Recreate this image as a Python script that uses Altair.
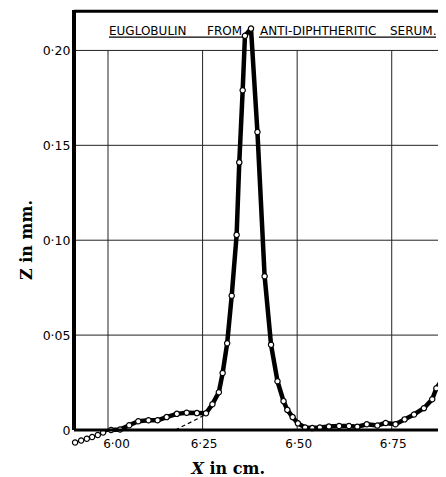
import altair as alt
import pandas as pd

# ---- data ----
x_cm = [5.913, 5.929, 5.944, 5.958, 5.973, 5.987, 6.008, 6.032, 6.056, 6.080,
        6.107, 6.131, 6.155, 6.182, 6.208, 6.235, 6.259, 6.276, 6.293, 6.303,
        6.315, 6.327, 6.340, 6.347, 6.356, 6.362, 6.378, 6.395, 6.414, 6.431,
        6.448, 6.464, 6.474, 6.488, 6.502, 6.521, 6.540, 6.560, 6.584, 6.611,
        6.637, 6.659, 6.684, 6.712, 6.734, 6.760, 6.784, 6.809, 6.835, 6.857,
        6.868, 6.885, 6.900]
z_mm = [-0.0066, -0.0055, -0.0046, -0.0037, -0.0026, -0.0013, 0.0000, 0.0003, 0.0025, 0.0046,
        0.0051, 0.0051, 0.0068, 0.0085, 0.0091, 0.0089, 0.0088, 0.0136, 0.0199, 0.0300,
        0.0457, 0.0707, 0.1028, 0.1410, 0.1790, 0.2077, 0.2115, 0.1570, 0.0810, 0.0449,
        0.0257, 0.0152, 0.0106, 0.0068, 0.0035, 0.0013, 0.0010, 0.0013, 0.0018, 0.0021,
        0.0021, 0.0017, 0.0030, 0.0024, 0.0037, 0.0030, 0.0056, 0.0082, 0.0115, 0.0162,
        0.0220, 0.0270, 0.0480]
x_ticks = [6.00, 6.25, 6.50, 6.75]
z_ticks = [0.0, 0.05, 0.10, 0.15, 0.20]
dash_x = [6.178, 6.262]
dash_z = [0.0, 0.0085]
title_words = ["EUGLOBULIN", "FROM", "ANTI-DIPHTHERITIC", "SERUM."]

W, H = 364, 420
XDOM = [5.9101, 5.9101 + W / 378.3]
YDOM = [0.0, 0.2213]

df = pd.DataFrame({"x": x_cm, "z": z_mm})
df_thin = df.iloc[:7]
df_thick = df.iloc[6:]
df_pts = df[df["x"] < 6.895]

xs = alt.Scale(domain=XDOM, nice=False, zero=False)
ys = alt.Scale(domain=YDOM, nice=False, zero=False)

lab_expr = "datum.value == 0 ? '0' : replace(format(datum.value, '.2f'), '.', '·')"

x_axis = alt.Axis(values=x_ticks, labelExpr=lab_expr, domain=False, ticks=False,
                  grid=False, labelPadding=8, labelFontSize=12, labelFont="DejaVu Sans",
                  labelColor="black", title=None,
                  labelOffset={"condition": {"test": "datum.value == 6", "value": 8}, "value": 1})
y_axis = alt.Axis(values=z_ticks, labelExpr=lab_expr, domain=False, ticks=False,
                  grid=False, labelPadding=4, labelFontSize=12.5, labelFont="DejaVu Sans",
                  labelColor="black", title=None)

X = lambda f: alt.X(f, scale=xs, axis=x_axis)
Y = lambda f: alt.Y(f, scale=ys, axis=y_axis)

hgrid = alt.Chart(pd.DataFrame({"z": z_ticks[1:]})).mark_rule(color="#222", strokeWidth=1).encode(
    y=Y("z:Q"), x=alt.value(0), x2=alt.value(W))
vgrid = alt.Chart(pd.DataFrame({"x": x_ticks})).mark_rule(color="#222", strokeWidth=1).encode(
    x=X("x:Q"), y=alt.datum(0.20), y2=alt.datum(0.0))
vgrid0 = alt.Chart(pd.DataFrame({"x": x_ticks[:1]})).mark_rule(color="#222", strokeWidth=1).encode(
    x=X("x:Q"), y=alt.value(0), y2=alt.datum(0.20))

frame_left = alt.Chart().mark_rule(color="black", strokeWidth=4).encode(
    x=alt.value(0), y=alt.value(0), y2=alt.value(H))
frame_top = alt.Chart().mark_rule(color="black", strokeWidth=3).encode(
    x=alt.value(0), x2=alt.value(W), y=alt.value(1.3))
frame_bot = alt.Chart().mark_rule(color="black", strokeWidth=3).encode(
    x=alt.value(0), x2=alt.value(W), y=alt.datum(0.0))

dash = alt.Chart(pd.DataFrame({"x": dash_x, "z": dash_z})).mark_line(
    color="black", strokeWidth=1.2, strokeDash=[4, 3]).encode(x=X("x:Q"), y=Y("z:Q"))

line_thin = alt.Chart(df_thin).mark_line(color="black", strokeWidth=1.6).encode(
    x=X("x:Q"), y=Y("z:Q"))
line_thick = alt.Chart(df_thick).mark_line(color="black", strokeWidth=4.5, strokeJoin="round").encode(
    x=X("x:Q"), y=Y("z:Q"))
pts = alt.Chart(df_pts).mark_circle(color="white", opacity=1, stroke="black", strokeWidth=1.2,
                                    size=28).encode(x=X("x:Q"), y=Y("z:Q"))

# title words (underlined)
title_x = [35, 133, 186, 316]
title_layers = []
for w, xp in zip(title_words, title_x):
    title_layers.append(alt.Chart().mark_text(text=w, font="DejaVu Sans", fontSize=12,
                                              align="left", baseline="alphabetic", color="black").encode(
        x=alt.value(xp), y=alt.value(25)))
ul1 = alt.Chart().mark_rule(color="black", strokeWidth=1.2).encode(
    x=alt.value(35), x2=alt.value(169), y=alt.value(27.2))
ul2 = alt.Chart().mark_rule(color="black", strokeWidth=1.2).encode(
    x=alt.value(185), x2=alt.value(362), y=alt.value(27.2))

xt1 = alt.Chart().mark_text(text="X", font="DejaVu Serif", fontSize=16, fontStyle="italic",
                            fontWeight="bold", align="left", baseline="alphabetic", color="black").encode(
    x=alt.value(117.5), y=alt.value(H + 44))
xt2 = alt.Chart().mark_text(text="in cm.", font="DejaVu Serif", fontSize=16, fontWeight="bold",
                            align="left", baseline="alphabetic", color="black").encode(
    x=alt.value(135.5), y=alt.value(H + 44))
yt = alt.Chart().mark_text(text="Z in mm.", font="DejaVu Serif", fontSize=16, fontWeight="bold",
                           angle=270, align="center", baseline="alphabetic", color="black").encode(
    x=alt.value(-42.5), y=alt.value(230))

chart = alt.layer(
    hgrid, vgrid, vgrid0, dash, line_thin, line_thick, pts,
    frame_left, frame_top, frame_bot, *title_layers, ul1, ul2, xt1, xt2, yt
).properties(
    width=W, height=H,
    autosize=alt.AutoSizeParams(type="none"),
    padding={"left": 66, "top": 2, "right": 0, "bottom": 47},
    background="white",
).configure_view(stroke=None)

chart.save("out.html", embed_options={"renderer": "svg", "actions": False})
